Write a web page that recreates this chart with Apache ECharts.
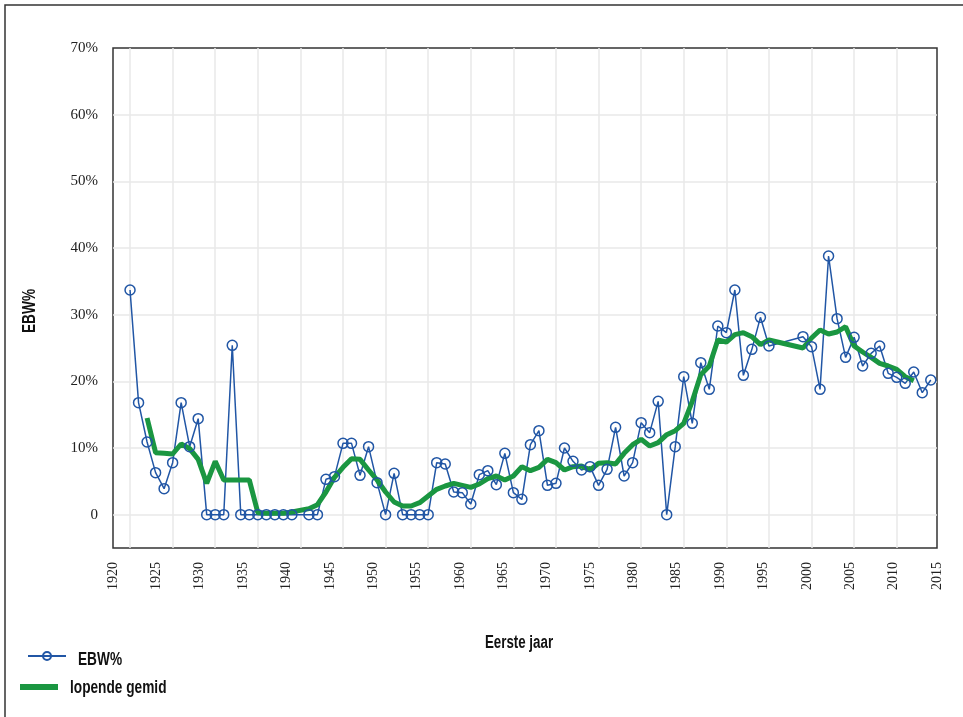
<!DOCTYPE html>
<html>
<head>
<meta charset="utf-8">
<script src="https://cdn.jsdelivr.net/npm/echarts@6/dist/echarts.min.js"></script>
<style>
  html, body { margin: 0; padding: 0; background: #fff; }
  #chart { width: 963px; height: 717px; }
</style>
</head>
<body>
<div id="chart"></div>
<script>
// EBW% per eerste jaar, met lopend gemiddelde
const years = [
  1920, 1921, 1922, 1923, 1924, 1925, 1926, 1927, 1928, 1929,
  1930, 1931, 1932, 1933, 1934, 1935, 1936, 1937, 1938, 1939,
  1941, 1942, 1943, 1944, 1945, 1946, 1947, 1948, 1949,
  1950, 1951, 1952, 1953, 1954, 1955, 1956, 1957, 1958, 1959,
  1960, 1961, 1962, 1963, 1964, 1965, 1966, 1967, 1968, 1969,
  1970, 1971, 1972, 1973, 1974, 1975, 1976, 1977, 1978, 1979,
  1980, 1981, 1982, 1983, 1984, 1985, 1986, 1987, 1988, 1989,
  1990, 1991, 1992, 1993, 1994, 1995,
  1999, 2000, 2001, 2002, 2003, 2004, 2005, 2006, 2007, 2008, 2009,
  2010, 2011, 2012, 2013, 2014
];
const ebw = [
  33.7, 16.8, 10.9, 6.3, 3.9, 7.8, 16.8, 10.2, 14.4, 0,
  0, 0, 25.4, 0, 0, 0, 0, 0, 0, 0,
  0, 0, 5.3, 5.7, 10.7, 10.7, 5.9, 10.2, 4.8,
  0, 6.2, 0, 0, 0, 0, 7.8, 7.6, 3.4, 3.3,
  1.6, 6.0, 6.6, 4.5, 9.2, 3.3, 2.3, 10.5, 12.6, 4.4,
  4.7, 10.0, 8.0, 6.7, 7.2, 4.4, 6.8, 13.1, 5.8, 7.8,
  13.8, 12.3, 17.0, 0, 10.2, 20.7, 13.7, 22.8, 18.8, 28.3,
  27.3, 33.7, 20.9, 24.8, 29.6, 25.3,
  26.7, 25.2, 18.8, 38.8, 29.4, 23.6, 26.6, 22.3, 24.2, 25.3, 21.2,
  20.6, 19.7, 21.4, 18.3, 20.2
];
const avgYears = [
  1922, 1923, 1924, 1925, 1926, 1927, 1928, 1929,
  1930, 1931, 1932, 1933, 1934, 1935, 1936, 1937, 1938, 1939,
  1941, 1942, 1943, 1944, 1945, 1946, 1947, 1948, 1949,
  1950, 1951, 1952, 1953, 1954, 1955, 1956, 1957, 1958, 1959,
  1960, 1961, 1962, 1963, 1964, 1965, 1966, 1967, 1968, 1969,
  1970, 1971, 1972, 1973, 1974, 1975, 1976, 1977, 1978, 1979,
  1980, 1981, 1982, 1983, 1984, 1985, 1986, 1987, 1988, 1989,
  1990, 1991, 1992, 1993, 1994, 1995,
  1999, 2000, 2001, 2002, 2003, 2004, 2005, 2006, 2007, 2008, 2009,
  2010, 2011, 2012
];
const avgValues = [
  14.5, 9.3, 9.2, 9.1, 10.6, 9.9, 8.3, 4.7,
  8.0, 5.2, 5.2, 5.2, 5.2, 0.3, 0.2, 0.2, 0.2, 0.4,
  0.9, 1.5, 3.4, 5.6, 7.1, 8.4, 8.3, 6.7, 5.2,
  3.4, 1.9, 1.3, 1.3, 1.8, 2.8, 3.8, 4.3, 4.7, 4.4,
  4.1, 4.6, 5.4, 5.8, 5.2, 5.8, 7.2, 6.6, 7.1, 8.3,
  7.8, 6.7, 7.2, 7.3, 6.7, 7.7, 7.8, 7.6, 9.2, 10.5,
  11.3, 10.3, 10.8, 12.0, 12.6, 13.7, 17.0, 21.0, 22.3, 26.2,
  25.9, 27.0, 27.3, 26.7, 25.5, 26.2,
  25.0, 26.5, 27.7, 27.1, 27.4, 28.2, 25.3, 24.4, 23.6, 22.7, 22.3,
  21.8, 20.7, 20.1
];

const blue = "#2156a5";
const green = "#1a9641";
const serif = "'Liberation Serif', 'DejaVu Serif', serif";
const sans = "'Liberation Sans', 'DejaVu Sans', sans-serif";

// smalle vette tekst (asnamen en legendalabels)
const narrowText = (text, x, y, extra) => Object.assign({
  type: "text",
  x: x,
  y: y,
  scaleX: 0.76,
  silent: true,
  style: { text: text, font: "bold 18px " + sans, fill: "#111", align: "left", verticalAlign: "middle" }
}, extra || {});

const chart = echarts.init(document.getElementById("chart"));
chart.setOption({
  animation: false,
  graphic: [
    {
      type: "rect",
      shape: { x: 5, y: 5, width: 1200, height: 1000 },
      style: { fill: "none", stroke: "#333", lineWidth: 1.5 },
      silent: true
    },
    narrowText("Eerste jaar", 519, 643, { scaleX: 0.74, style: { text: "Eerste jaar", font: "bold 18px " + sans, fill: "#111", align: "center", verticalAlign: "middle" } }),
    narrowText("EBW%", 30, 311, { rotation: Math.PI / 2, style: { text: "EBW%", font: "bold 18px " + sans, fill: "#111", align: "center", verticalAlign: "middle" } }),
    narrowText("EBW%", 78, 660),
    narrowText("lopende gemid", 70, 688)
  ],
  grid: {
    left: 113,
    top: 48,
    right: 26,
    bottom: 169,
    show: true,
    borderColor: "#333",
    borderWidth: 1.5,
    backgroundColor: "transparent"
  },
  legend: [
    {
      data: ["EBW%"],
      left: 22,
      top: 646,
      itemWidth: 38,
      itemHeight: 10,
      formatter: () => ""
    },
    {
      data: [{ name: "lopende gemid", icon: "rect" }],
      left: 15,
      top: 679,
      itemWidth: 38,
      itemHeight: 6,
      formatter: () => ""
    }
  ],
  xAxis: [
    {
      // data-as, met rasterlijnen
      type: "value",
      min: 1918,
      max: 2014.73,
      splitNumber: 19,
      axisLine: { show: false },
      axisTick: { show: false },
      axisLabel: { show: false },
      splitLine: {
        show: true,
        showMinLine: false,
        showMaxLine: false,
        lineStyle: { color: "#e8e8e8", width: 1.5 }
      }
    },
    {
      // label-as
      type: "value",
      position: "bottom",
      min: 1920,
      max: 2015,
      interval: 5,
      axisLine: { show: false },
      axisTick: { show: false },
      splitLine: { show: false },
      axisLabel: {
        rotate: 90,
        margin: 14,
        fontFamily: serif,
        fontSize: 14,
        color: "#222",
        formatter: v => String(v)
      }
    }
  ],
  yAxis: {
    type: "value",
    min: -5,
    max: 70,
    splitNumber: 8,
    axisLine: { show: false },
    axisTick: { show: false },
    axisLabel: {
      margin: 15,
      fontFamily: serif,
      fontSize: 15,
      color: "#222",
      formatter: v => (v < 0 ? "" : v === 0 ? "0" : v + "%")
    },
    splitLine: {
      showMinLine: false,
      showMaxLine: false,
      lineStyle: { color: "#e8e8e8", width: 1.5 }
    }
  },
  series: [
    {
      name: "EBW%",
      type: "line",
      xAxisIndex: 0,
      data: years.map((y, i) => [y, ebw[i]]),
      symbol: "circle",
      symbolSize: 10,
      itemStyle: { color: "rgba(255,255,255,0)", borderColor: blue, borderWidth: 1.5 },
      lineStyle: { color: blue, width: 1.5 }
    },
    {
      name: "lopende gemid",
      type: "line",
      xAxisIndex: 0,
      data: avgYears.map((y, i) => [y, avgValues[i]]),
      symbol: "none",
      itemStyle: { color: green },
      lineStyle: { color: green, width: 5 }
    }
  ]
});
</script>
</body>
</html>
